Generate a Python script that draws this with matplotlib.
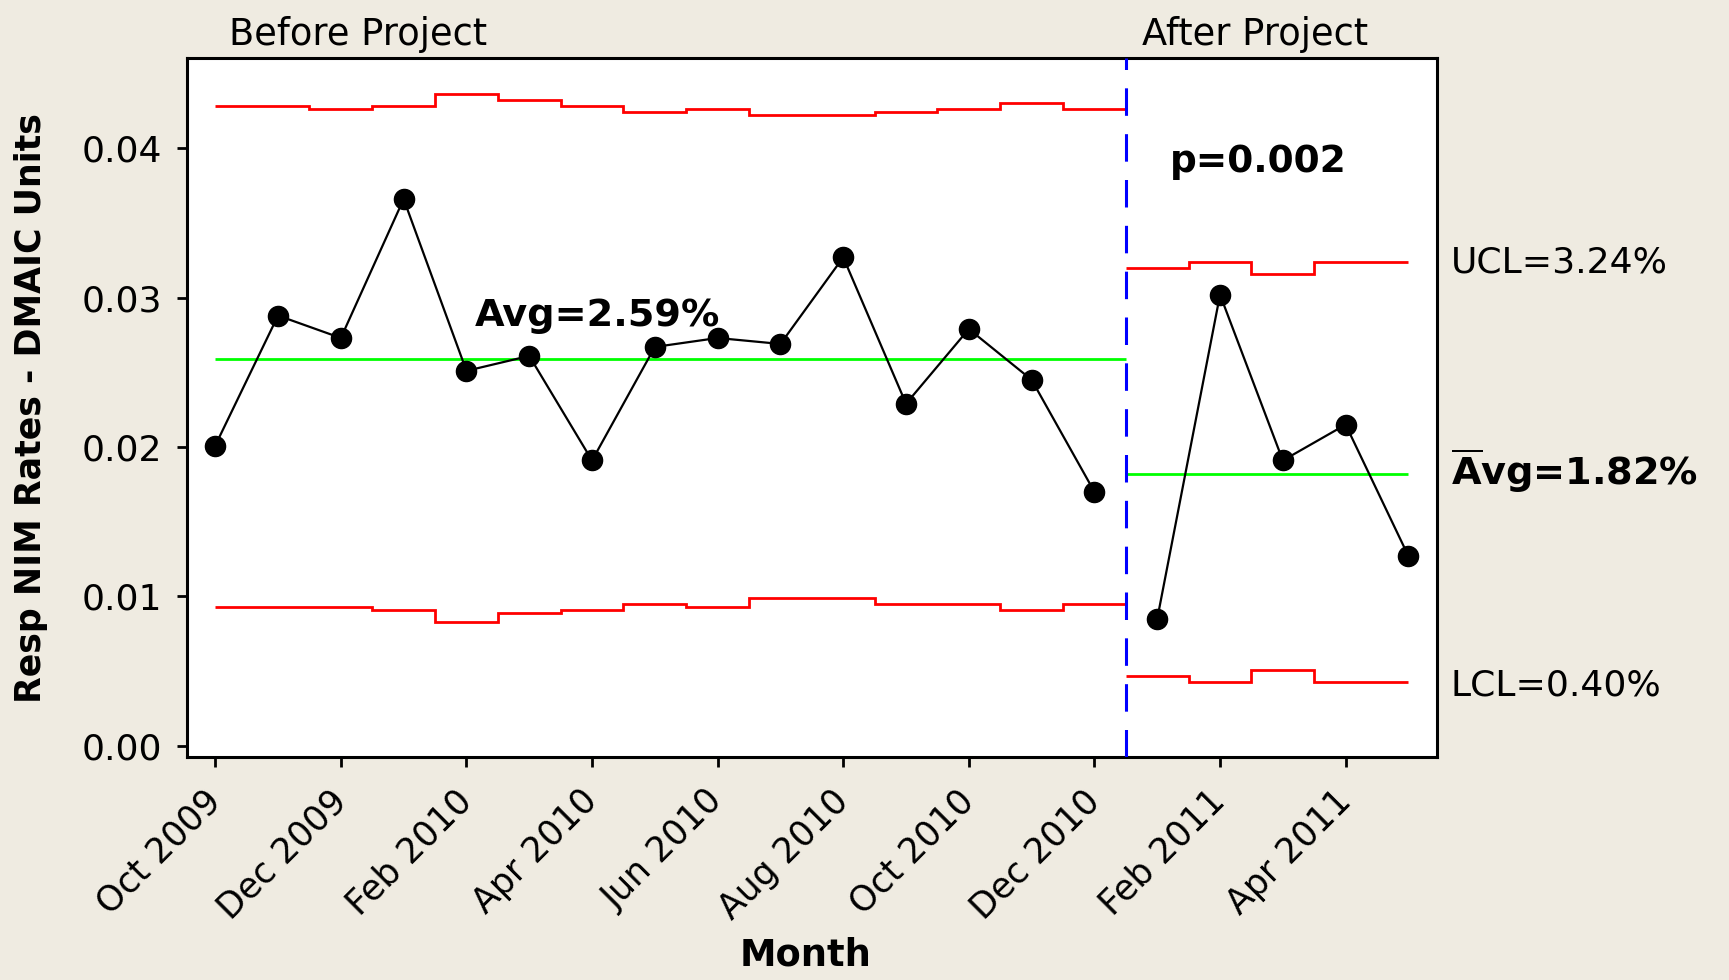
import numpy as np
import matplotlib
matplotlib.use("Agg")
import matplotlib.pyplot as plt
from matplotlib.ticker import FormatStrFormatter

plt.rcParams['font.family'] = ['DejaVu Sans']

# ---------------- data ----------------
months = ['Oct 2009', 'Nov 2009', 'Dec 2009', 'Jan 2010', 'Feb 2010', 'Mar 2010',
          'Apr 2010', 'May 2010', 'Jun 2010', 'Jul 2010', 'Aug 2010', 'Sep 2010',
          'Oct 2010', 'Nov 2010', 'Dec 2010', 'Jan 2011', 'Feb 2011', 'Mar 2011',
          'Apr 2011', 'May 2011']

rate_before = [0.0201, 0.0288, 0.0273, 0.0366, 0.0251, 0.0261, 0.0191, 0.0267,
               0.0273, 0.0269, 0.0327, 0.0229, 0.0279, 0.0245, 0.0170]
rate_after = [0.0085, 0.0302, 0.0191, 0.0215, 0.0127]

ucl_before = [0.04280, 0.04280, 0.04262, 0.04280, 0.04361, 0.04321, 0.04280, 0.04242,
              0.04262, 0.04222, 0.04222, 0.04242, 0.04262, 0.04302, 0.04262]
lcl_before = [0.00927, 0.00927, 0.00927, 0.00907, 0.00827, 0.00887, 0.00907, 0.00947,
              0.00927, 0.00987, 0.00987, 0.00947, 0.00947, 0.00907, 0.00947]
ucl_after = [0.03196, 0.03236, 0.03158, 0.03236, 0.03236]
lcl_after = [0.00467, 0.00425, 0.00507, 0.00425, 0.00425]

avg_before = 0.0259
avg_after = 0.0182

y_ticks = [0.00, 0.01, 0.02, 0.03, 0.04]

# ---------------- figure ----------------
bg = '#EFEBE1'
fig = plt.figure(figsize=(17.29, 9.80), dpi=100, facecolor=bg)
ax = fig.add_axes([0.1079, 0.2272, 0.7234, 0.7133])
ax.set_facecolor('white')

n_before = len(rate_before)
x_before = np.arange(n_before)
x_after = np.arange(n_before, n_before + len(rate_after))
stage_split = x_before[-1] + 0.5

edges_before = np.concatenate([[x_before[0]], x_before[:-1] + 0.5, [stage_split]])
edges_after = np.concatenate([[stage_split], x_after[:-1] + 0.5, [x_after[-1]]])

# control limits
ax.stairs(ucl_before, edges_before, baseline=None, color='#FF0000', lw=2.0, zorder=2)
ax.stairs(lcl_before, edges_before, baseline=None, color='#FF0000', lw=2.0, zorder=2)
ax.stairs(ucl_after, edges_after, baseline=None, color='#FF0000', lw=2.0, zorder=2)
ax.stairs(lcl_after, edges_after, baseline=None, color='#FF0000', lw=2.0, zorder=2)

# center lines
ax.hlines(avg_before, x_before[0], stage_split, color='#00FF00', lw=2.0, zorder=2)
ax.hlines(avg_after, stage_split, x_after[-1], color='#00FF00', lw=2.0, zorder=2)

# stage divider
ax.axvline(stage_split, color='#0000FF', lw=2.2, linestyle=(0, (9, 6)), zorder=3)

# data
ax.plot(x_before, rate_before, color='black', lw=1.6, marker='o', ms=14.5, zorder=4)
ax.plot(x_after, rate_after, color='black', lw=1.6, marker='o', ms=14.5, zorder=4)

ax.set_xlim(-0.457, 19.46)
ax.set_ylim(-0.00077, 0.04602)

tick_idx = list(range(0, len(months), 2))
ax.set_xticks(tick_idx)
ax.set_xticklabels([months[i] for i in tick_idx], rotation=45, ha='right',
                   va='center', rotation_mode='anchor')
ax.set_yticks(y_ticks)
ax.yaxis.set_major_formatter(FormatStrFormatter('%.2f'))

for s in ax.spines.values():
    s.set_linewidth(2.2)
ax.tick_params(axis='both', direction='out', length=7.5, width=2.0, color='black')
ax.tick_params(axis='y', pad=10, labelsize=26)
ax.tick_params(axis='x', pad=20, labelsize=25)

# texts
W, H = 1729.0, 980.0
fig.text(229 / W, 1 - 45 / H, 'Before Project', fontsize=26.5, ha='left', va='baseline')
fig.text(1142 / W, 1 - 45 / H, 'After Project', fontsize=26.5, ha='left', va='baseline')
fig.text(1170 / W, 1 - 171.7 / H, 'p=0.002', fontsize=27, fontweight='bold',
         ha='left', va='baseline')
fig.text(475 / W, 1 - 326 / H, 'Avg=2.59%', fontsize=27.5, fontweight='bold',
         ha='left', va='baseline', zorder=5)
fig.text(1451 / W, 1 - 272.7 / H, 'UCL=3.24%', fontsize=26, ha='left', va='baseline')
fig.text(1451 / W, 1 - 485 / H, r'$\overline{\mathbf{A}}$vg=1.82%', fontsize=27.5,
         fontweight='bold', ha='left', va='baseline')
fig.text(1451 / W, 1 - 695.7 / H, 'LCL=0.40%', fontsize=26, ha='left', va='baseline')

fig.text(31 / W, 1 - 408 / H, 'Resp NIM Rates - DMAIC Units', fontsize=25,
         fontweight='bold', rotation=90, ha='center', va='center')
fig.text(806 / W, 1 - 965 / H, 'Month', fontsize=26.5, fontweight='bold',
         ha='center', va='baseline')

fig.savefig('out.png', dpi=100, facecolor=bg)
